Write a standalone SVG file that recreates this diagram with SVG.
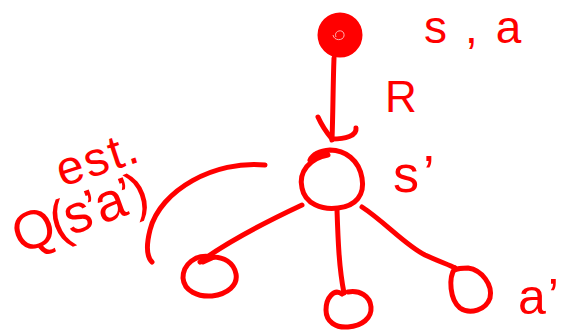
<svg xmlns="http://www.w3.org/2000/svg" width="570" height="333" viewBox="0 0 570 333">
<style>
.s{fill:none;stroke:#ff0000;stroke-width:5;stroke-linecap:round;stroke-linejoin:round}
.t{fill:#ff0000;font-family:"Liberation Sans",Arial,sans-serif}
</style>
<rect width="570" height="333" fill="#ffffff"/>
<g id="connectors">
<path class="s" d="M334 58 C333 85 333 112 332 140"/>
<path class="s" d="M318 117 C322 126 327 133 332 139 M356 128 C357 136 345 139 332 139"/>
<path class="s" d="M302 205 C270 220 230 240 200 262 M214 257 L203 262"/>
<path class="s" d="M337 210 C338 240 339 268 344 293"/>
<path class="s" d="M362 207 C385 222 405 245 425 255 C440 262 450 265 455 268"/>
<path class="s" d="M265 165 C215 160 160 190 150 230 C145 250 148 258 152 262"/>
</g>
<g id="node-sa">
<circle cx="340" cy="35" r="21" fill="#ff0000" stroke="#ff0000" stroke-width="3"/>
<path d="M336 37 C333 30 345 28 344 36 C343 41 334 41 333 35" fill="none" stroke="#ffb0b0" stroke-width="1"/>
</g>
<g id="node-s-prime">
<path class="s" d="M328 155 C310 158 298 172 302 188 C305 204 322 210 338 208 C356 206 365 195 362 178 C359 160 345 150 330 150 C318 151 312 156 310 160"/>
</g>
<g id="node-child-left">
<path class="s" d="M213 257 C195 253 183 265 183 278 C184 291 198 297 212 296 C228 294 238 285 236 274 C234 263 224 256 210 257"/>
</g>
<g id="node-child-mid">
<path class="s" d="M342 294 C334 288 326 298 326 310 C326 322 336 328 348 327 C362 326 372 318 371 307 C370 296 360 290 348 292"/>
</g>
<g id="node-child-right">
<path class="s" d="M455 268 C448 278 450 300 460 308 C470 315 486 310 490 298 C493 285 482 270 468 268 C462 268 458 268 455 270"/>
</g>
<g id="labels">
<text class="t" x="424" y="43" font-size="46" letter-spacing="18">s,a</text>
<text class="t" x="385" y="112" font-size="44">R</text>
<text class="t" x="393" y="192" font-size="52" letter-spacing="4">s’</text>
<text class="t" x="518" y="314" font-size="50" letter-spacing="2">a’</text>
<text class="t" x="0" y="0" font-size="48" transform="translate(62,187) rotate(-18)" letter-spacing="2">est.</text>
<text class="t" x="0" y="0" font-size="54" transform="translate(20,254) rotate(-20)" letter-spacing="-3">Q(s’a’)</text>
</g>
</svg>
